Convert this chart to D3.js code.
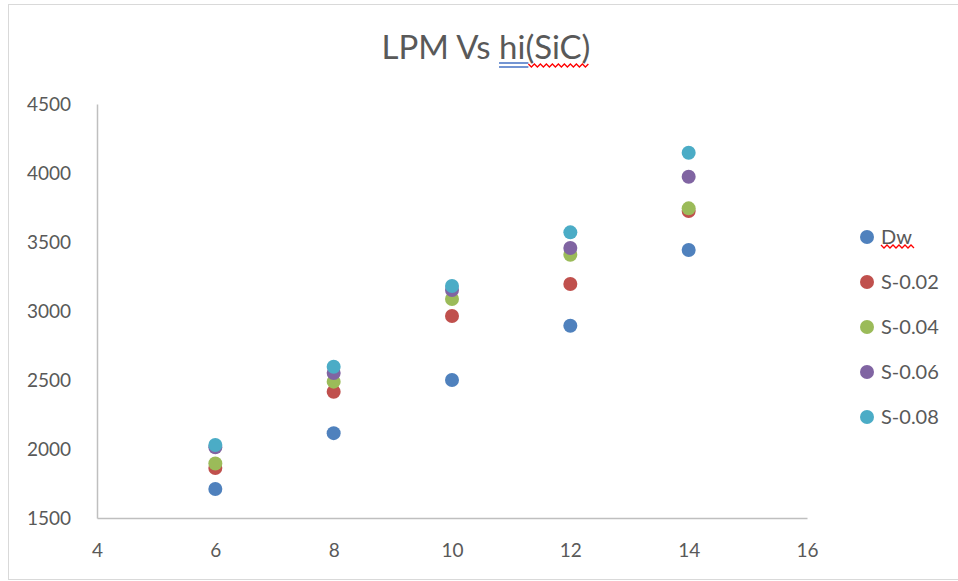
<!DOCTYPE html>
<html>
<head>
  <meta charset="utf-8">
  <title>LPM Vs hi(SiC)</title>
  <script src="https://cdnjs.cloudflare.com/ajax/libs/d3/7.8.5/d3.min.js"></script>
  <style>
    body { margin: 0; background: #fff; }
    text { font-family: Lato, "Open Sans", sans-serif; fill: #595959; }
  </style>
</head>
<body>
<div id="chart"></div>
<script>

var xValues = [6, 8, 10, 12, 14];
var seriesNames = ['Dw', 'S-0.02', 'S-0.04', 'S-0.06', 'S-0.08'];
var seriesColors = ['#4f81bd', '#c0504d', '#9bbb59', '#8064a2', '#4bacc6'];
var dw    = [1710, 2115, 2500, 2893, 3442];
var s002  = [1862, 2415, 2964, 3196, 3725];
var s004  = [1895, 2488, 3087, 3408, 3744];
var s006  = [2012, 2551, 3152, 3457, 3973];
var s008  = [2029, 2596, 3181, 3570, 4147];
var seriesValues = [dw, s002, s004, s006, s008];
var xTicks = [4, 6, 8, 10, 12, 14, 16];
var yTicks = [1500, 2000, 2500, 3000, 3500, 4000, 4500];

var width = 958, height = 581;

var svg = d3.select('#chart').append('svg')
            .attr('width', width)
            .attr('height', height);

// chart frame (right edge runs off the picture)
svg.append('rect')
   .attr('x', 8.5).attr('y', 4.5)
   .attr('width', 970).attr('height', 575)
   .attr('fill', 'none')
   .attr('stroke', '#d9d9d9');

var x = d3.scaleLinear().domain([4, 16]).range([97, 807]);
var y = d3.scaleLinear().domain([1500, 4500]).range([518, 104]);

// axes
var xAxis = svg.append('g')
   .attr('transform', 'translate(0,518)')
   .call(d3.axisBottom(x).tickValues(xTicks).tickFormat(d3.format('d')).tickSize(0).tickPadding(26));
xAxis.select('.domain').attr('stroke', '#bfbfbf').attr('stroke-width', 1.5);
xAxis.selectAll('text').attr('font-size', 19).attr('fill', '#595959');

var yAxis = svg.append('g')
   .attr('transform', 'translate(97,0)')
   .call(d3.axisLeft(y).tickValues(yTicks).tickFormat(d3.format('d')).tickSize(0).tickPadding(26));
yAxis.select('.domain').attr('stroke', '#bfbfbf').attr('stroke-width', 1.5);
yAxis.selectAll('text').attr('font-size', 19).attr('fill', '#595959');

// points
seriesValues.forEach(function(vals, i) {
  svg.append('g').selectAll('circle')
     .data(vals)
     .enter()
     .append('circle')
     .attr('cx', function(d, j) { return x(xValues[j]); })
     .attr('cy', function(d) { return y(d); })
     .attr('r', 7)
     .attr('fill', seriesColors[i]);
});

// title
var title = svg.append('text')
   .attr('x', 486).attr('y', 59)
   .attr('text-anchor', 'middle')
   .attr('font-size', 33)
   .text('LPM Vs hi(SiC)');

function wavy(x0, x1, yy) {
  var p = d3.path();
  p.moveTo(x0, yy);
  var k = 0;
  for (var xx = x0; xx < x1; xx += 3) {
    p.lineTo(xx + 3, yy + (k % 2 === 0 ? 3 : 0));
    k++;
  }
  return p.toString();
}

// spell check marks under the title: blue double line under "hi", red wave under "(SiC)"
var tNode = title.node();
var hStart = tNode.getStartPositionOfChar(7).x;
var pStart = tNode.getStartPositionOfChar(9).x;
var tEnd = tNode.getEndPositionOfChar(13).x;
[63, 67].forEach(function(yy) {
  svg.append('line').attr('x1', hStart).attr('x2', pStart + 3)
     .attr('y1', yy).attr('y2', yy).attr('stroke', '#4472c4').attr('stroke-width', 1.5);
});
svg.append('path').attr('d', wavy(pStart + 3, tEnd - 3, 64))
   .attr('fill', 'none').attr('stroke', '#ff0000').attr('stroke-width', 1.3);

// legend
var legend = svg.append('g').selectAll('g')
   .data(seriesNames)
   .enter()
   .append('g')
   .attr('transform', function(d, i) { return 'translate(867,' + (237 + i * 45) + ')'; });

legend.append('circle')
   .attr('r', 7)
   .attr('fill', function(d, i) { return seriesColors[i]; });

legend.append('text')
   .attr('x', 14).attr('y', 7)
   .attr('font-size', 20)
   .text(function(d) { return d; });

var dwText = legend.filter(function(d) { return d === 'Dw'; }).select('text').node();
var dwLen = dwText.getComputedTextLength();
svg.append('path').attr('d', wavy(867 + 14, 867 + 14 + dwLen, 245))
   .attr('fill', 'none').attr('stroke', '#ff0000').attr('stroke-width', 1.3);

</script>
</body>
</html>
